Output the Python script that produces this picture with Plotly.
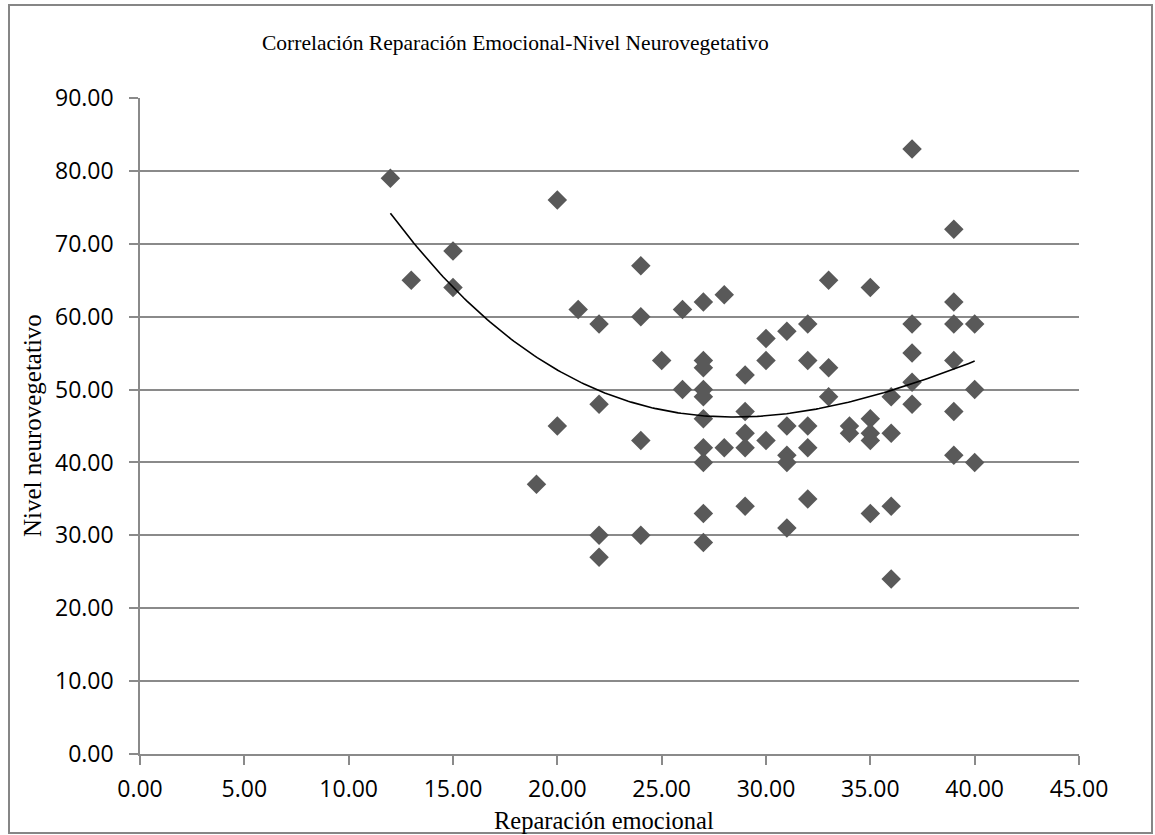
import numpy as np
import plotly.graph_objects as go

# Data
reparacion = [12, 13, 15, 15, 19, 20, 20, 21, 22, 22, 22, 22,
              24, 24, 24, 24, 25, 26, 26,
              27, 27, 27, 27, 27, 27, 27, 27, 27, 27,
              28, 28, 29, 29, 29, 29, 29,
              30, 30, 30, 31, 31, 31, 31, 31,
              32, 32, 32, 32, 32, 33, 33, 33, 34, 34,
              35, 35, 35, 35, 35, 36, 36, 36, 36,
              37, 37, 37, 37, 37, 39, 39, 39, 39, 39, 39,
              40, 40, 40]
neuroveg = [79, 65, 69, 64, 37, 76, 45, 61, 59, 48, 30, 27,
            67, 60, 43, 30, 54, 61, 50,
            62, 54, 53, 50, 49, 46, 42, 40, 33, 29,
            63, 42, 52, 47, 44, 42, 34,
            57, 54, 43, 58, 45, 41, 40, 31,
            59, 54, 45, 42, 35, 65, 53, 49, 45, 44,
            64, 46, 44, 43, 33, 49, 44, 34, 24,
            83, 59, 55, 51, 48, 72, 62, 59, 54, 47, 41,
            59, 50, 40]

x_ticks = [0, 5, 10, 15, 20, 25, 30, 35, 40, 45]
y_ticks = [0, 10, 20, 30, 40, 50, 60, 70, 80, 90]

title_text = "Correlación Reparación Emocional-Nivel Neurovegetativo"
x_title = "Reparación emocional"
y_title = "Nivel neurovegetativo"

# polynomial trendline, as in the spreadsheet chart
coef = np.polyfit(reparacion, neuroveg, 3)
tx = np.linspace(min(reparacion), max(reparacion), 200)
ty = np.polyval(coef, tx)

fig = go.Figure()
fig.add_trace(go.Scatter(
    x=reparacion, y=neuroveg, mode="markers",
    marker=dict(symbol="diamond", size=15, color="#595959", line=dict(width=0)),
    showlegend=False, hoverinfo="x+y"))
fig.add_trace(go.Scatter(
    x=tx, y=ty, mode="lines", line=dict(color="black", width=1.6),
    showlegend=False, hoverinfo="skip"))

W, H = 1155, 835
L, R, T, B = 140, 76, 98, 81
pw, ph = W - L - R, H - T - B

def px_to_paper_x(px):
    return (px - L) / pw

def py_to_paper_y(py):
    return (H - B - py) / ph

grid_col = "#8a8a8a"
tick_font = dict(family="Open Sans, DejaVu Sans, sans-serif", size=23, color="#000000")
serif = "Liberation Serif, Times New Roman, serif"

fig.update_layout(
    width=W, height=H,
    margin=dict(l=L, r=R, t=T, b=B, pad=0),
    paper_bgcolor="white", plot_bgcolor="white",
    xaxis=dict(range=[0, 45], tickvals=x_ticks, tickformat=".2f",
               showgrid=False, zeroline=False,
               showline=True, linecolor=grid_col, linewidth=1.5,
               ticks="outside", ticklen=9, tickcolor=grid_col, tickwidth=1.5,
               tickfont=tick_font, ticklabelstandoff=5),
    yaxis=dict(range=[0, 90], tickvals=y_ticks, tickformat=".2f",
               showgrid=True, gridcolor=grid_col, gridwidth=1.5,
               zeroline=False,
               showline=True, linecolor=grid_col, linewidth=1.5,
               ticks="outside", ticklen=9, tickcolor=grid_col, tickwidth=1.5,
               tickfont=tick_font, ticklabelstandoff=11),
    shapes=[dict(type="rect", xref="paper", yref="paper",
                 x0=px_to_paper_x(9), x1=px_to_paper_x(1152),
                 y0=py_to_paper_y(833), y1=py_to_paper_y(5),
                 line=dict(color="#868686", width=2), fillcolor="rgba(0,0,0,0)",
                 layer="below")],
    annotations=[
        dict(text=title_text, xref="paper", yref="paper",
             x=px_to_paper_x(515), y=py_to_paper_y(43),
             xanchor="center", yanchor="middle", showarrow=False,
             font=dict(family=serif, size=21.5, color="black")),
        dict(text=x_title, xref="paper", yref="paper",
             x=px_to_paper_x(604), y=py_to_paper_y(820),
             xanchor="center", yanchor="middle", showarrow=False,
             font=dict(family=serif, size=24.5, color="black")),
        dict(text=y_title, xref="paper", yref="paper",
             x=px_to_paper_x(32), y=py_to_paper_y(426),
             xanchor="center", yanchor="middle", showarrow=False, textangle=-90,
             font=dict(family=serif, size=25, color="black")),
    ],
)

fig.write_html("out.html")
